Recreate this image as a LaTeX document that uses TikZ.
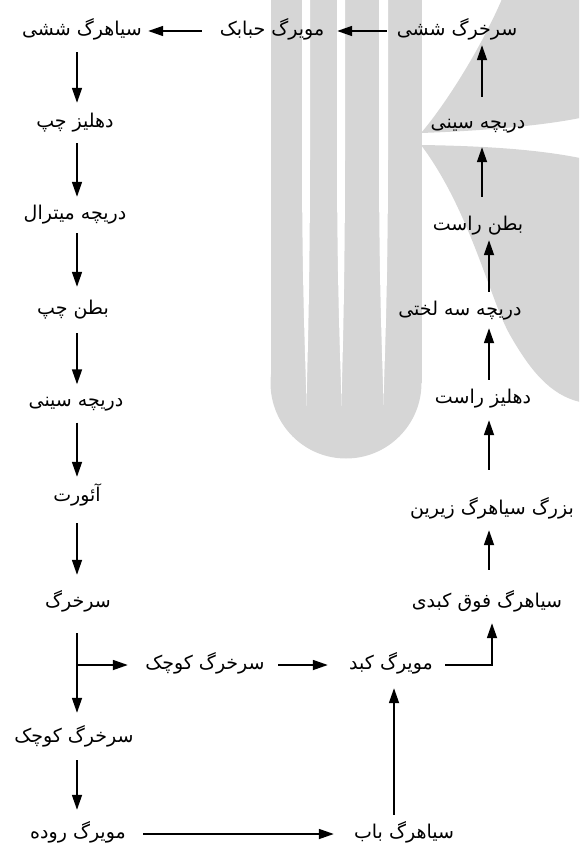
\documentclass[tikz,border=0pt]{standalone}
\usepackage{fontspec}
\newfontfamily\fafont[Script=Arabic]{DejaVu Sans}
\TeXXeTstate=1
\usetikzlibrary{arrows.meta,calc}
\definecolor{wmgray}{RGB}{214,214,214}
\newcommand{\FAtxt}[1]{\beginR #1\endR}
\tikzset{
  lbl/.style={font=\fafont\fontsize{19}{22}\selectfont, inner sep=0pt, text height=13pt, text depth=4pt, anchor=center},
  arr/.style={line width=1.7pt, -{Triangle[length=15pt,width=10pt]}},
  ln/.style={line width=1.7pt}
}
\begin{document}
\begin{tikzpicture}[x=1pt,y=-1pt]
\useasboundingbox (0,0) rectangle (579,848);
\begin{scope}
\clip (0,0) rectangle (579,848);
% watermark
\fill[wmgray] (270.5,-1) rectangle (421.5,383);
\fill[wmgray] (346,383) circle[radius=75.5pt];
\fill[white] (302,-1) -- (302,150) .. controls (302,300) and (306,370) .. (306.5,406) .. controls (307,370) and (310,300) .. (310,150) -- (310,-1) -- cycle;
\fill[white] (337,-1) -- (337,150) .. controls (337,300) and (341,370) .. (341.5,406) .. controls (342,370) and (345,300) .. (345,150) -- (345,-1) -- cycle;
\fill[white] (379,-1) -- (379,150) .. controls (379,300) and (383,370) .. (383.5,405) .. controls (384,370) and (388,300) .. (388,150) -- (388,-1) -- cycle;
\fill[wmgray] (502,-1) .. controls (480,50) and (445,105) .. (421,133) .. controls (480,131) and (540,126) .. (580,118) -- (580,-1) -- cycle;
\fill[wmgray] (421,145) .. controls (490,146) and (540,150) .. (580,158) -- (580,402) .. controls (550,395) and (530,370) .. (510,335) .. controls (490,300) and (470,210) .. (421,145) -- cycle;
\end{scope}

% column coordinates
\coordinate (colL) at (77,0);
\coordinate (colR) at (482,0);
\coordinate (colS) at (489,0);
\coordinate (colC) at (492,0);
\coordinate (colU) at (394,0);
\coordinate (br) at (77,665);

% left column
\node[lbl, minimum width=120pt] (lA) at (82,31) {\FAtxt{سیاهرگ ششی}};
\node[lbl, minimum width=84pt] (lB) at (75,123) {\FAtxt{دهلیز چپ}};
\node[lbl, minimum width=106pt] (lC) at (75,215) {\FAtxt{دریچه میترال}};
\node[lbl, minimum width=75pt] (lD) at (73,310) {\FAtxt{بطن چپ}};
\node[lbl, minimum width=102pt] (lE) at (76,402) {\FAtxt{دریچه سینی}};
\node[lbl, minimum width=47pt] (lF) at (77,497) {\FAtxt{آئورت}};
\node[lbl, minimum width=67pt] (lG) at (78,603) {\FAtxt{سرخرگ}};
\node[lbl, minimum width=130pt] (lH) at (74,738) {\FAtxt{سرخرگ کوچک}};
\node[lbl, minimum width=96pt] (lI) at (78,834) {\FAtxt{مویرگ روده}};
% top row
\node[lbl, minimum width=118pt] (tB) at (272,31) {\FAtxt{مویرگ حبابک}};
\node[lbl, minimum width=118pt] (tC) at (457,31) {\FAtxt{سرخرگ ششی}};
% right column
\node[lbl, minimum width=101pt] (rB) at (478,124) {\FAtxt{دریچه سینی}};
\node[lbl, minimum width=85pt] (rC) at (478,226) {\FAtxt{بطن راست}};
\node[lbl, minimum width=130pt] (rD) at (460,311) {\FAtxt{دریچه سه لختی}};
\node[lbl, minimum width=94pt] (rE) at (483,399) {\FAtxt{دهلیز راست}};
\node[lbl, minimum width=170pt] (rF) at (492,510) {\FAtxt{بزرگ سیاهرگ زیرین}};
\node[lbl, minimum width=162pt] (rG) at (487,603) {\FAtxt{سیاهرگ فوق کبدی}};
% middle and bottom
\node[lbl, minimum width=130pt] (mA) at (205,665) {\FAtxt{سرخرگ کوچک}};
\node[lbl, minimum width=93pt] (mB) at (391,665) {\FAtxt{مویرگ کبد}};
\node[lbl, minimum width=104pt] (bB) at (404,834) {\FAtxt{سیاهرگ باب}};

% left column arrows
\draw[arr, shorten <=12.5pt, shorten >=11.5pt] (lA.south -| colL) -- (lB.north -| colL);
\draw[arr, shorten <=11.5pt, shorten >=9.5pt] (lB.south -| colL) -- (lC.north -| colL);
\draw[arr, shorten <=9.5pt, shorten >=14.5pt] (lC.south -| colL) -- (lD.north -| colL);
\draw[arr, shorten <=14.5pt, shorten >=9pt] (lD.south -| colL) -- (lE.north -| colL);
\draw[arr, shorten <=12pt, shorten >=11.5pt] (lE.south -| colL) -- (lF.north -| colL);
\draw[arr, shorten <=17.5pt, shorten >=19.5pt] (lF.south -| colL) -- (lG.north -| colL);
\draw[arr, shorten <=21.5pt, shorten >=16.5pt] (lG.south -| colL) -- (lH.north -| colL);
\draw[arr, shorten <=13.5pt, shorten >=15.5pt] (lH.south -| colL) -- (lI.north -| colL);
% branch
\draw[arr, shorten >=12pt] (br) -- (mA.west);
% top row arrows
\draw[arr, shorten <=10pt, shorten >=6pt] (tC.west) -- (tB.east);
\draw[arr, shorten <=11pt, shorten >=6pt] (tB.west) -- (lA.east);
% right column arrows
\draw[arr, shorten <=18.5pt, shorten >=5.5pt] (rB.north -| colR) -- (tC.south -| colR);
\draw[arr, shorten <=20.5pt, shorten >=14.5pt] (rC.north -| colR) -- (rB.south -| colR);
\draw[arr, shorten <=10.5pt, shorten >=5.5pt] (rD.north -| colS) -- (rC.south -| colS);
\draw[arr, shorten <=10.5pt, shorten >=8.5pt] (rE.north -| colS) -- (rD.south -| colS);
\draw[arr, shorten <=31.5pt, shorten >=12.5pt] (rF.north -| colS) -- (rE.south -| colS);
\draw[arr, shorten <=24.5pt, shorten >=11.5pt] (rG.north -| colS) -- (rF.south -| colS);
% middle row
\draw[arr, shorten <=8pt, shorten >=16.5pt] (mA.east) -- (mB.west);
\draw[arr, shorten <=7.5pt, shorten >=11.5pt] (mB.east) -| (rG.south -| colC);
% bottom
\draw[arr, shorten <=17pt, shorten >=18pt] (lI.east) -- (bB.west);
\draw[arr, shorten <=10.5pt, shorten >=14.5pt] (bB.north -| colU) -- (mB.south -| colU);
\end{tikzpicture}
\end{document}
